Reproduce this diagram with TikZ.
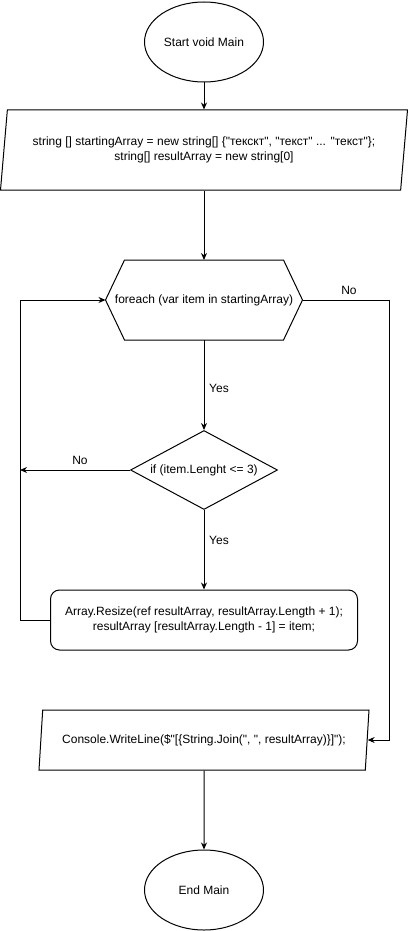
\documentclass[tikz,border=0pt]{standalone}
\usepackage{fontspec}
\setmainfont{Liberation Sans}
\usetikzlibrary{shapes.geometric, arrows.meta}
\newcommand{\dq}{\XeTeXglyph\XeTeXcharglyph"22\relax}

\begin{document}
\begin{tikzpicture}[x=1pt, y=-1pt, line width=1pt, >={Stealth[length=7pt, width=6pt]}, font=\fontsize{12}{14.4}\selectfont,
	block/.style={draw, align=center, inner sep=0pt},
	io/.style={block, trapezium, trapezium stretches body=true}]
	\useasboundingbox (0, 0) rectangle (407, 931);
	\node[block, ellipse, minimum width=119pt, minimum height=80pt] (start) at (204, 42) {Start void Main};
	\node[io, trapezium left angle=75, trapezium right angle=105, minimum width=407pt, minimum height=80pt] (init) at (204, 150) {string [] startingArray = new string[] \{\dq текскт\dq, \dq текст\dq\ ... \dq текст\dq\};\\string[] resultArray = new string[0]};
	\node[align=center, inner sep=0pt, minimum width=196pt, minimum height=79pt] (loop) at (204, 300) {foreach (var item in startingArray)};
	\draw (loop.west) -- ([xshift=19pt]loop.north west) -- ([xshift=-19pt]loop.north east) -- (loop.east) -- ([xshift=-19pt]loop.south east) -- ([xshift=19pt]loop.south west) -- cycle;
	\node[block, diamond, aspect=1.86, minimum width=147pt, minimum height=79pt] (cond) at (204, 470) {if (item.Lenght <= 3)};
	\node[block, rounded corners=9pt, minimum width=307pt, minimum height=60pt] (resize) at (204, 620) {Array.Resize(ref resultArray, resultArray.Length + 1);\\resultArray [resultArray.Length - 1] = item;};
	\node[io, trapezium left angle=72, trapezium right angle=108, minimum width=330pt, minimum height=60pt] (print) at (204, 740) {Console.WriteLine(\$\dq[\{String.Join(\dq, \dq, resultArray)\}]\dq);};
	\node[block, ellipse, minimum width=119pt, minimum height=80pt] (end) at (204, 890) {End Main};
	\coordinate (backtop) at (20, 300);
	\coordinate (noturn) at (389, 300);
	\coordinate (condno) at (20, 470);
	\draw[->] (start) -- (init);
	\draw[->] (init) -- (loop);
	\draw[->] (loop) -- (cond);
	\draw[->] (cond) -- (resize);
	\draw[->] (resize.west) -| (backtop) -- (loop.west);
	\draw[->] (cond.west) -- (condno);
	\draw[->] (loop.east) -- (noturn) |- (print.east);
	\draw[->] (print) -- (end);
	\node (yesloop) at (219, 388) {Yes};
	\node (yescond) at (219, 540) {Yes};
	\node (noloop) at (349, 290) {No};
	\node (nocond) at (80, 460) {No};
\end{tikzpicture}
\end{document}
